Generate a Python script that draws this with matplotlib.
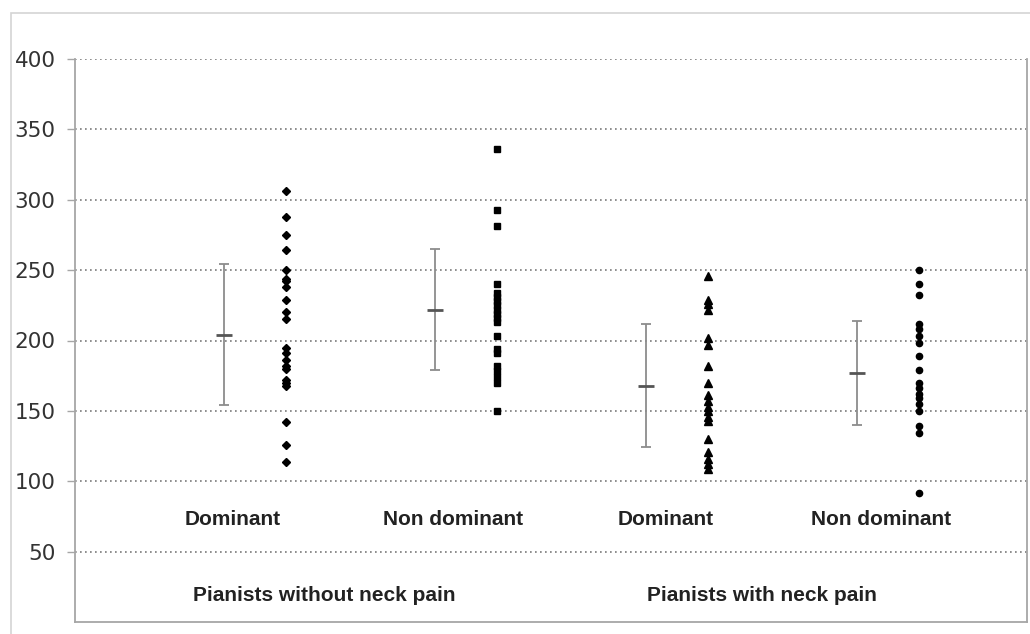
import numpy as np
import matplotlib
matplotlib.use("Agg")
import matplotlib.pyplot as plt
from matplotlib.patches import Rectangle

# -----------------------------
# Data
# -----------------------------
categories = ["Dominant", "Non dominant", "Dominant", "Non dominant"]
groups = ["Pianists without neck pain", "Pianists with neck pain"]

no_pain_dominant = [306, 288, 275, 264, 250, 244, 242, 238, 229, 220, 215,
                    195, 191, 186, 182, 180, 172, 170, 168, 142, 126, 114]
no_pain_nondominant = [336, 293, 281, 240, 234, 231, 228, 225, 222, 219, 216,
                       213, 203, 194, 191, 182, 178, 174, 170, 150]
pain_dominant = [246, 229, 226, 222, 202, 197, 182, 170, 161, 157, 153, 150,
                 146, 143, 130, 121, 116, 112, 109]
pain_nondominant = [250, 240, 232, 212, 208, 203, 198, 189, 179, 170, 166,
                    162, 159, 155, 150, 139, 134, 92]

means = [204, 222, 168, 177]
sds = [50, 43, 44, 37]

series = [no_pain_dominant, no_pain_nondominant, pain_dominant, pain_nondominant]
markers = ["D", "s", "^", "o"]
marker_sizes = [4.5, 5, 5.5, 4.5]

# -----------------------------
# Plot
# -----------------------------
fig = plt.figure(figsize=(10.30, 6.34), dpi=100)
ax = fig.add_axes([75 / 1030, 1 - 622 / 634, 952 / 1030, 563 / 634])

# outer chart frame (cut off at right and bottom like the reference)
fig.patches.append(Rectangle((11 / 1030, -0.2), 1.2, 1.2 - 13 / 634,
                             transform=fig.transFigure, fill=False,
                             edgecolor="#d4d4d4", linewidth=1.2))

pts_x = np.arange(1, len(series) + 1)
err_x = pts_x - 0.295

for x, vals, mk, ms in zip(pts_x, series, markers, marker_sizes):
    ax.plot([x] * len(vals), vals, linestyle="none", marker=mk,
            markersize=ms, color="black", zorder=3)

ax.errorbar(err_x, means, yerr=sds, fmt="none", ecolor="#8c8c8c",
            elinewidth=1.3, capsize=3.5, capthick=1.3, zorder=3)
ax.plot(err_x, means, linestyle="none", marker="_", markersize=12,
        markeredgewidth=2, color="#555555", zorder=4)

# category labels and group labels inside the plot
label_shift = [0.04, 0.085, 0.095, 0.115]
for x, dx, label in zip(err_x, label_shift, categories):
    ax.text(x + dx, 73, label, ha="center", va="center",
            fontsize=15, fontweight="bold", family="Liberation Sans",
            color="#222222")
ax.text(1.18, 19, groups[0], ha="center", va="center", fontsize=15,
        fontweight="bold", family="Liberation Sans", color="#222222")
ax.text(3.255, 19, groups[1], ha="center", va="center", fontsize=15,
        fontweight="bold", family="Liberation Sans", color="#222222")

ax.set_xlim(0, 4.51)
ax.set_ylim(0, 400)
ax.set_yticks(np.arange(50, 401, 50))
ax.set_xticks([])

ax.grid(axis="y", linestyle=(0, (1, 2)), color="#7a7a7a", linewidth=1.2)
ax.set_axisbelow(True)

ax.spines["top"].set_visible(False)
for side in ["left", "bottom", "right"]:
    ax.spines[side].set_color("#a6a6a6")
    ax.spines[side].set_linewidth(1.3)

ax.tick_params(axis="y", length=6, width=1, color="#a6a6a6",
               labelsize=15.5, labelcolor="#333333", pad=8)

fig.savefig("out.png", dpi=100)
